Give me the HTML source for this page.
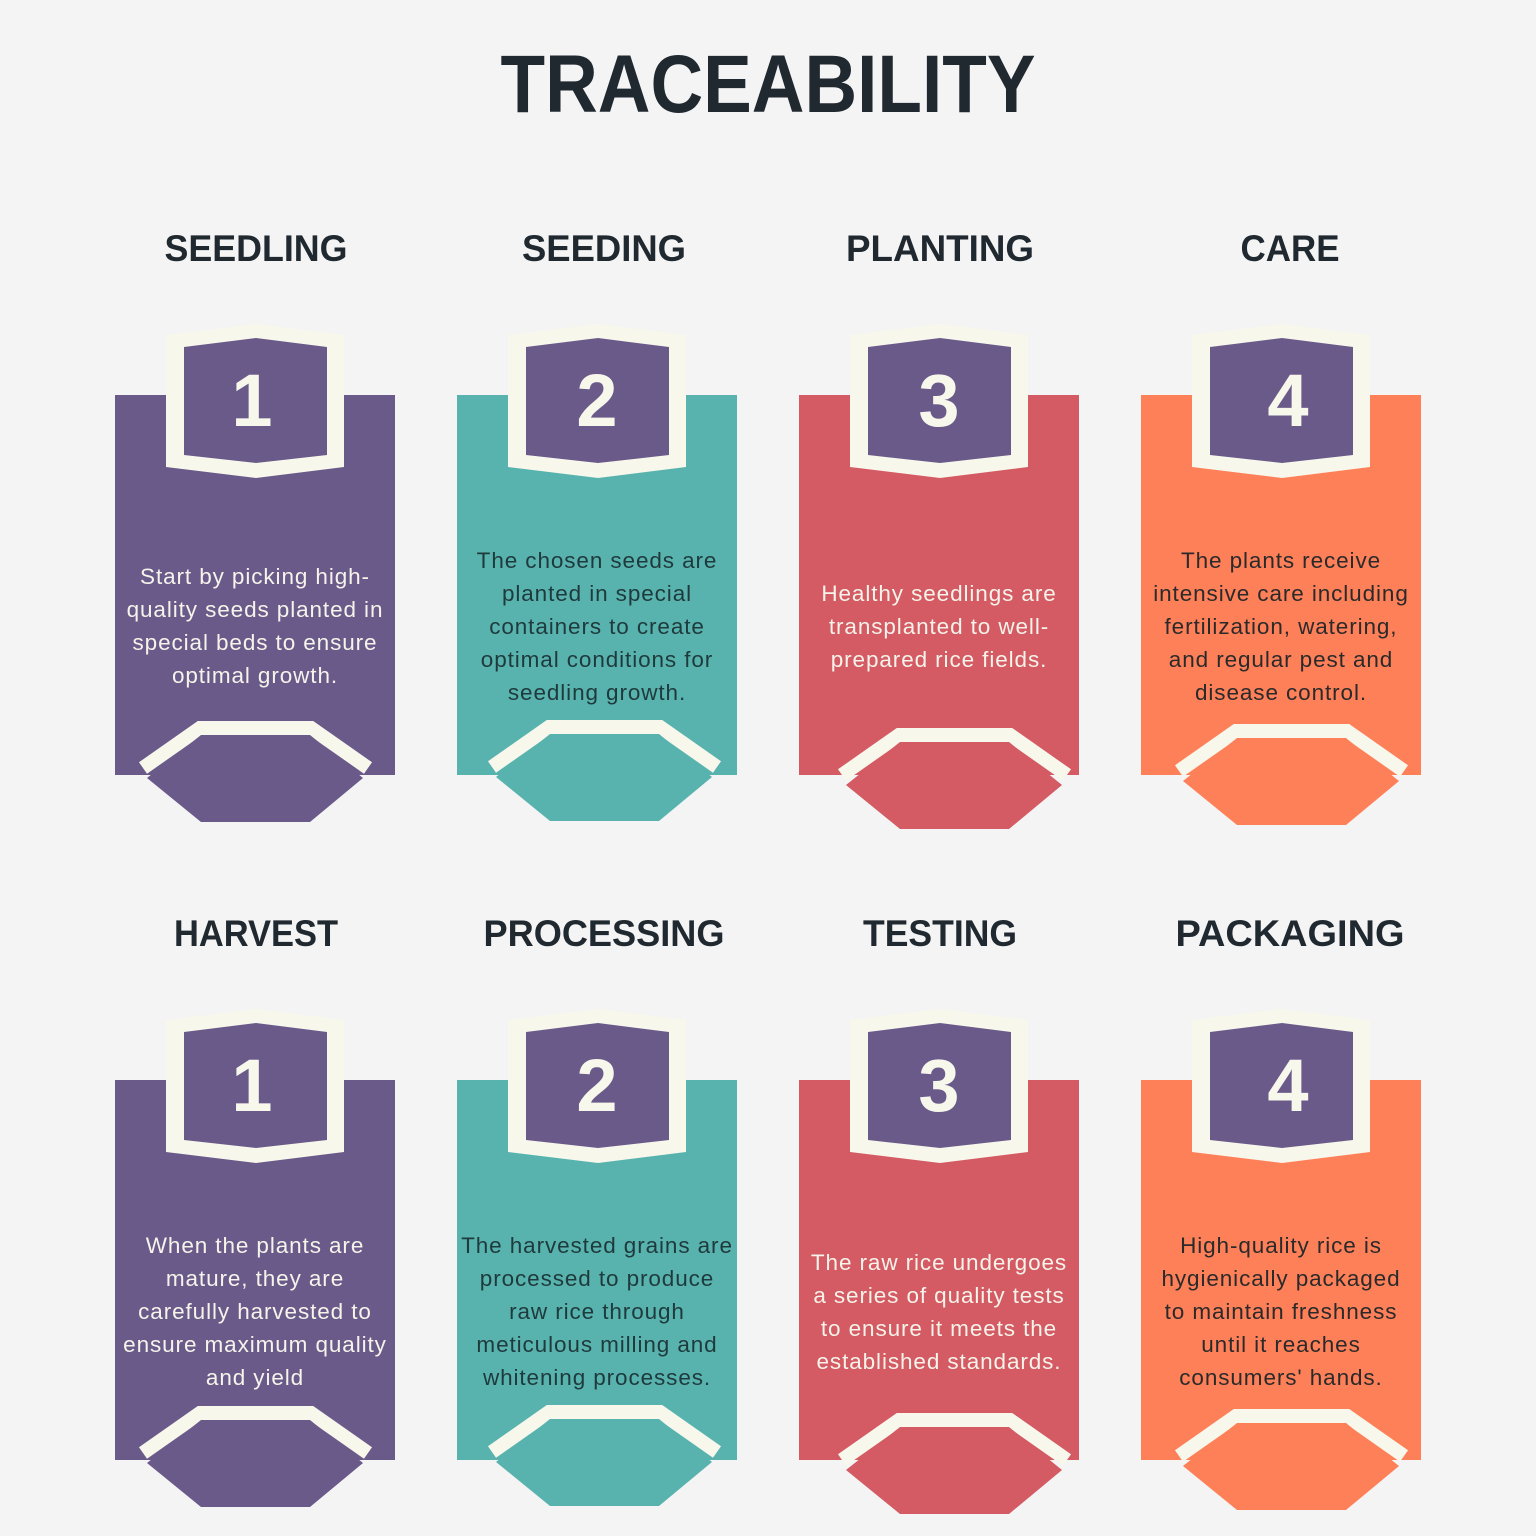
<!DOCTYPE html>
<html><head><meta charset="utf-8"><style>
html,body{margin:0;padding:0;background:#f4f4f4;}
svg{display:block;}
</style></head><body>
<svg width="1536" height="1536" viewBox="0 0 1536 1536" xmlns="http://www.w3.org/2000/svg">
<rect width="1536" height="1536" fill="#f4f4f4"/>
<text x="768" y="112" text-anchor="middle" font-family="Liberation Sans, sans-serif" font-weight="bold" font-size="82" fill="#212930" textLength="535" lengthAdjust="spacingAndGlyphs">TRACEABILITY</text>
<g font-family="Liberation Sans, sans-serif" font-weight="bold" font-size="37" fill="#212930" text-anchor="middle">
<text x="256" y="261" textLength="183" lengthAdjust="spacingAndGlyphs">SEEDLING</text>
<text x="604" y="261" textLength="164" lengthAdjust="spacingAndGlyphs">SEEDING</text>
<text x="940" y="261" textLength="188" lengthAdjust="spacingAndGlyphs">PLANTING</text>
<text x="1290" y="261" textLength="99" lengthAdjust="spacingAndGlyphs">CARE</text>
<text x="256" y="946" textLength="164" lengthAdjust="spacingAndGlyphs">HARVEST</text>
<text x="604" y="946" textLength="241" lengthAdjust="spacingAndGlyphs">PROCESSING</text>
<text x="940" y="946" textLength="154" lengthAdjust="spacingAndGlyphs">TESTING</text>
<text x="1290" y="946" textLength="229" lengthAdjust="spacingAndGlyphs">PACKAGING</text>
</g>
<defs>
<g id="badge">
<polygon points="51,-60 141,-71 229,-60 229,72 141,83 51,72" fill="#f7f7ec"/>
<polygon points="69,-48 141,-57 212,-48 212,60 141,68 69,60" fill="#6a5a8a"/>
</g>
</defs>
<g id="cards">
<g transform="translate(115,395)">
<rect width="280" height="380" fill="#6a5a8a"/><use href="#badge"/>
<g transform="translate(0,326)"><polyline points="28,47 85,7 196,7 253,47" fill="none" stroke="#f7f7ec" stroke-width="14"/><polygon points="32,57 86,14 195,14 248,57 195,101 86,101" fill="#6a5a8a"/></g>
</g>
<g transform="translate(457,395)">
<rect width="280" height="380" fill="#58b3ae"/><use href="#badge"/>
<g transform="translate(7,325)"><polyline points="28,47 85,7 196,7 253,47" fill="none" stroke="#f7f7ec" stroke-width="14"/><polygon points="32,57 86,14 195,14 248,57 195,101 86,101" fill="#58b3ae"/></g>
</g>
<g transform="translate(799,395)">
<rect width="280" height="380" fill="#d45a63"/><use href="#badge"/>
<g transform="translate(15,333)"><polyline points="28,47 85,7 196,7 253,47" fill="none" stroke="#f7f7ec" stroke-width="14"/><polygon points="32,57 86,14 195,14 248,57 195,101 86,101" fill="#d45a63"/></g>
</g>
<g transform="translate(1141,395)">
<rect width="280" height="380" fill="#fe8059"/><use href="#badge"/>
<g transform="translate(10,329)"><polyline points="28,47 85,7 196,7 253,47" fill="none" stroke="#f7f7ec" stroke-width="14"/><polygon points="32,57 86,14 195,14 248,57 195,101 86,101" fill="#fe8059"/></g>
</g>
<g transform="translate(115,1080)">
<rect width="280" height="380" fill="#6a5a8a"/><use href="#badge"/>
<g transform="translate(0,326)"><polyline points="28,47 85,7 196,7 253,47" fill="none" stroke="#f7f7ec" stroke-width="14"/><polygon points="32,57 86,14 195,14 248,57 195,101 86,101" fill="#6a5a8a"/></g>
</g>
<g transform="translate(457,1080)">
<rect width="280" height="380" fill="#58b3ae"/><use href="#badge"/>
<g transform="translate(7,325)"><polyline points="28,47 85,7 196,7 253,47" fill="none" stroke="#f7f7ec" stroke-width="14"/><polygon points="32,57 86,14 195,14 248,57 195,101 86,101" fill="#58b3ae"/></g>
</g>
<g transform="translate(799,1080)">
<rect width="280" height="380" fill="#d45a63"/><use href="#badge"/>
<g transform="translate(15,333)"><polyline points="28,47 85,7 196,7 253,47" fill="none" stroke="#f7f7ec" stroke-width="14"/><polygon points="32,57 86,14 195,14 248,57 195,101 86,101" fill="#d45a63"/></g>
</g>
<g transform="translate(1141,1080)">
<rect width="280" height="380" fill="#fe8059"/><use href="#badge"/>
<g transform="translate(10,329)"><polyline points="28,47 85,7 196,7 253,47" fill="none" stroke="#f7f7ec" stroke-width="14"/><polygon points="32,57 86,14 195,14 248,57 195,101 86,101" fill="#fe8059"/></g>
</g>
</g>
<g font-family="Liberation Sans, sans-serif" font-weight="bold" font-size="74" fill="#f7f7ec" text-anchor="middle">
<text x="252" y="426">1</text><text x="597" y="426">2</text><text x="939" y="426">3</text><text x="1288" y="426">4</text>
<text x="252" y="1111">1</text><text x="597" y="1111">2</text><text x="939" y="1111">3</text><text x="1288" y="1111">4</text>
</g>
<g font-family="Liberation Sans, sans-serif" font-size="22.5" letter-spacing="0.9" text-anchor="middle">
<g fill="#f5f3ea">
<text x="255" y="584">Start by picking high-</text>
<text x="255" y="617">quality seeds planted in</text>
<text x="255" y="650">special beds to ensure</text>
<text x="255" y="683">optimal growth.</text>
</g>
<g fill="#1f3a3c">
<text x="597" y="568">The chosen seeds are</text>
<text x="597" y="601">planted in special</text>
<text x="597" y="634">containers to create</text>
<text x="597" y="667">optimal conditions for</text>
<text x="597" y="700">seedling growth.</text>
</g>
<g fill="#f5f3ea">
<text x="939" y="601">Healthy seedlings are</text>
<text x="939" y="634">transplanted to well-</text>
<text x="939" y="667">prepared rice fields.</text>
</g>
<g fill="#2a2a2a">
<text x="1281" y="568">The plants receive</text>
<text x="1281" y="601">intensive care including</text>
<text x="1281" y="634">fertilization, watering,</text>
<text x="1281" y="667">and regular pest and</text>
<text x="1281" y="700">disease control.</text>
</g>
<g fill="#f5f3ea">
<text x="255" y="1253">When the plants are</text>
<text x="255" y="1286">mature, they are</text>
<text x="255" y="1319">carefully harvested to</text>
<text x="255" y="1352">ensure maximum quality</text>
<text x="255" y="1385">and yield</text>
</g>
<g fill="#1f3a3c">
<text x="597" y="1253">The harvested grains are</text>
<text x="597" y="1286">processed to produce</text>
<text x="597" y="1319">raw rice through</text>
<text x="597" y="1352">meticulous milling and</text>
<text x="597" y="1385">whitening processes.</text>
</g>
<g fill="#f5f3ea">
<text x="939" y="1270">The raw rice undergoes</text>
<text x="939" y="1303">a series of quality tests</text>
<text x="939" y="1336">to ensure it meets the</text>
<text x="939" y="1369">established standards.</text>
</g>
<g fill="#2a2a2a">
<text x="1281" y="1253">High-quality rice is</text>
<text x="1281" y="1286">hygienically packaged</text>
<text x="1281" y="1319">to maintain freshness</text>
<text x="1281" y="1352">until it reaches</text>
<text x="1281" y="1385">consumers' hands.</text>
</g>
</g>
</svg>
</body></html>
